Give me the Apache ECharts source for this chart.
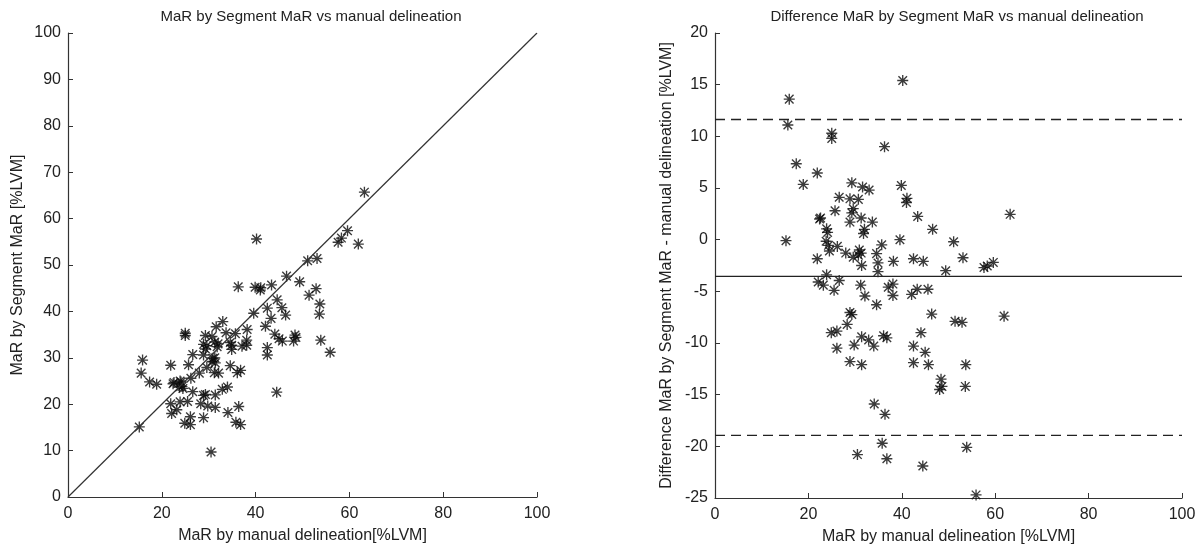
<!DOCTYPE html>
<html>
<head>
<meta charset="utf-8">
<script src="https://cdn.jsdelivr.net/npm/echarts@6/dist/echarts.min.js"></script>
<style>
html,body{margin:0;padding:0;background:#fff;}
#c{width:1200px;height:551px;}
</style>
</head>
<body>
<div id="c"></div>
<script>
// MaR by manual delineation [%LVM]
const manual = [15.9,15.6,40.2,25.0,25.0,36.3,17.4,21.9,18.9,15.2,
  29.3,31.6,33.0,39.9,26.6,28.9,30.7,41.1,41.0,29.6,
  25.7,22.6,22.4,29.3,28.9,31.3,33.7,43.4,46.6,23.9,
  24.1,32.0,31.8,39.6,23.8,24.3,24.5,26.2,28.0,29.6,
  30.9,31.3,30.7,31.4,35.7,34.6,34.9,34.9,21.9,38.2,
  42.5,44.6,49.4,51.1,53.1,57.6,58.3,59.6,63.2,23.9,
  26.6,22.1,23.2,25.5,31.2,32.1,34.6,37.1,28.9,29.3,
  28.3,24.9,26.1,31.4,32.9,34.0,29.8,26.1,36.1,36.8,
  28.9,31.4,34.1,36.4,35.8,30.5,36.8,38.1,38.1,42.1,
  43.3,45.6,46.4,51.4,52.9,61.9,44.1,42.5,45.0,42.5,
  45.7,53.7,48.4,48.6,48.1,53.6,44.5,53.9,55.9];
// MaR by Segment [%LVM]
const segment = [29.5,26.7,55.6,35.3,34.8,45.3,24.8,28.4,24.3,15.1,
  34.8,36.7,37.8,45.2,30.7,32.9,34.6,45.1,44.6,32.6,
  28.5,24.7,24.4,31.9,30.6,33.4,35.4,45.7,47.6,25.0,
  24.8,33.0,32.4,39.6,23.7,23.8,23.4,25.6,26.7,27.9,
  29.9,30.0,29.2,28.9,35.2,33.3,32.7,31.8,20.1,36.1,
  40.7,42.5,46.4,50.9,51.4,54.9,55.8,57.4,65.7,20.5,
  22.7,18.0,18.8,20.6,26.8,26.7,28.3,32.5,21.9,22.1,
  20.1,15.9,17.3,22.0,23.2,23.7,19.6,15.6,26.8,27.3,
  17.1,19.3,18.2,19.5,16.1,9.7,15.6,33.8,32.7,36.8,
  38.5,40.8,39.2,43.5,44.9,54.5,35.1,32.2,34.1,30.6,
  33.6,41.6,34.9,34.4,33.6,39.4,22.6,33.8,31.2];
// Segment - manual [%LVM]
const difference = [13.6,11.1,15.4,10.3,9.8,9.0,7.35,6.45,5.35,-0.1,
  5.5,5.1,4.8,5.25,4.1,3.95,3.9,4.0,3.6,3.0,
  2.8,2.1,2.0,2.6,1.7,2.1,1.7,2.25,1.0,1.05,
  0.7,1.0,0.6,0.0,-0.15,-0.55,-1.1,-0.65,-1.3,-1.7,
  -1.0,-1.3,-1.5,-2.5,-0.5,-1.35,-2.25,-3.1,-1.85,-2.1,
  -1.85,-2.1,-3.0,-0.2,-1.75,-2.7,-2.55,-2.2,2.45,-3.4,
  -3.95,-4.1,-4.4,-4.9,-4.4,-5.45,-6.3,-4.6,-7.05,-7.25,
  -8.2,-9.0,-8.85,-9.4,-9.7,-10.3,-10.2,-10.5,-9.3,-9.5,
  -11.8,-12.1,-15.9,-16.9,-19.7,-20.8,-21.2,-4.3,-5.4,-5.3,
  -4.8,-4.8,-7.2,-7.9,-8.0,-7.4,-9.0,-10.3,-10.9,-11.9,
  -12.1,-12.1,-13.5,-14.2,-14.5,-14.2,-21.9,-20.1,-24.7];
const identityLine = [0, 100];
const meanDiff = -3.55;
const upperLoA = 11.63;
const lowerLoA = -18.93;
const xTicksRange = [0, 100];

const leftTitle = 'MaR by Segment MaR vs manual delineation';
const rightTitle = 'Difference MaR by Segment MaR vs manual delineation';
const leftXName = 'MaR by manual delineation[%LVM]';
const leftYName = 'MaR by Segment MaR [%LVM]';
const rightXName = 'MaR by manual delineation [%LVM]';
const rightYName = 'Difference MaR by Segment MaR - manual delineation [%LVM]';

const star = 'path://M8.9 1L11.1 1L11.1 19L8.9 19Z M1 8.9L19 8.9L19 11.1L1 11.1Z M3.8 2.2L17.8 16.2L16.2 17.8L2.2 3.8Z M16.2 2.2L17.8 3.8L3.8 17.8L2.2 16.2Z M8 8L12 8L12 12L8 12Z';

const font = 'Liberation Sans, Arial, sans-serif';
const txt = '#222';
const axisCol = '#333';

function mkX(idx, name) {
  return {
    type: 'value', gridIndex: idx, min: 0, max: 100, interval: 20,
    name: name, nameLocation: 'middle', nameGap: 31,
    nameTextStyle: {fontFamily: font, fontSize: 16, color: txt},
    axisLine: {show: true, onZero: false, lineStyle: {color: axisCol, width: 1.2}},
    axisTick: {show: true, inside: true, length: 5, lineStyle: {color: axisCol}},
    axisLabel: {fontFamily: font, fontSize: 16, color: txt, margin: 9},
    splitLine: {show: false}
  };
}
function mkY(idx, min, max, interval, name, gap) {
  return {
    type: 'value', gridIndex: idx, min: min, max: max, interval: interval,
    name: name, nameLocation: 'middle', nameGap: gap, nameRotate: 90,
    nameTextStyle: {fontFamily: font, fontSize: 16, color: txt},
    axisLine: {show: true, onZero: false, lineStyle: {color: axisCol, width: 1.2}},
    axisTick: {show: true, inside: true, length: 5, lineStyle: {color: axisCol}},
    axisLabel: {fontFamily: font, fontSize: 16, color: txt, margin: 7},
    splitLine: {show: false}
  };
}

const leftPts = manual.map((m, i) => [m, segment[i]]);
const rightPts = manual.map((m, i) => [m, difference[i]]);

const chart = echarts.init(document.getElementById('c'), null, {renderer: 'canvas'});
chart.setOption({
  backgroundColor: '#fff',
  animation: false,
  title: [
    {text: leftTitle, left: 306, top: 4, textAlign: 'center',
     textStyle: {fontFamily: font, fontSize: 15, fontWeight: 'normal', color: txt}},
    {text: rightTitle, left: 952, top: 4, textAlign: 'center',
     textStyle: {fontFamily: font, fontSize: 15, fontWeight: 'normal', color: txt}}
  ],
  grid: [
    {left: 68, right: 663, top: 33, bottom: 54},
    {left: 715, right: 18, top: 33, bottom: 53}
  ],
  xAxis: [mkX(0, leftXName), mkX(1, rightXName)],
  yAxis: [mkY(0, 0, 100, 10, leftYName, 42), mkY(1, -25, 20, 5, rightYName, 40)],
  series: [
    {type: 'line', xAxisIndex: 0, yAxisIndex: 0, symbol: 'none', silent: true,
     data: identityLine.map(v => [v, v]),
     lineStyle: {color: '#333', width: 1.2}},
    {type: 'scatter', xAxisIndex: 0, yAxisIndex: 0, data: leftPts,
     symbol: star, symbolSize: 11, itemStyle: {color: '#0a0a0a'}},
    {type: 'line', xAxisIndex: 1, yAxisIndex: 1, symbol: 'none', silent: true,
     data: xTicksRange.map(v => [v, meanDiff]),
     lineStyle: {color: '#222', width: 1.3}},
    {type: 'line', xAxisIndex: 1, yAxisIndex: 1, symbol: 'none', silent: true,
     data: xTicksRange.map(v => [v, upperLoA]),
     lineStyle: {color: '#222', width: 1.3, type: [10, 6]}},
    {type: 'line', xAxisIndex: 1, yAxisIndex: 1, symbol: 'none', silent: true,
     data: xTicksRange.map(v => [v, lowerLoA]),
     lineStyle: {color: '#222', width: 1.3, type: [10, 6]}},
    {type: 'scatter', xAxisIndex: 1, yAxisIndex: 1, data: rightPts,
     symbol: star, symbolSize: 11, itemStyle: {color: '#0a0a0a'}}
  ]
});
</script>
</body>
</html>
